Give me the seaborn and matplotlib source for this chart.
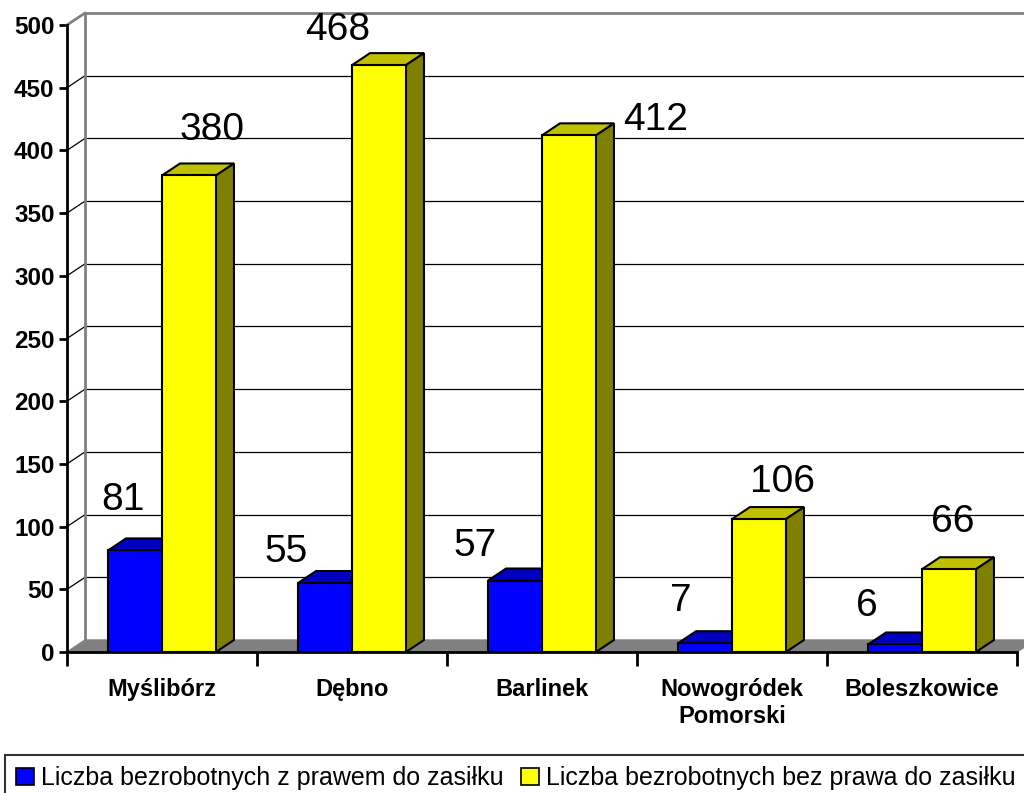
import matplotlib
matplotlib.use("Agg")
import matplotlib.pyplot as plt
import numpy as np
import pandas as pd
import seaborn as sns
from matplotlib.patches import Patch, Polygon

gminy = ["Myślibórz", "Dębno", "Barlinek", "Nowogródek\nPomorski", "Boleszkowice"]
z_prawem = [81, 55, 57, 7, 6]
bez_prawa = [380, 468, 412, 106, 66]
serie = ["Liczba bezrobotnych z prawem do zasiłku", "Liczba bezrobotnych bez prawa do zasiłku"]

# label shifts (px) from the front-top centre of each bar, as Excel placed them
offsets_z = [(-12, 50), (-39, 31), (-40, 35), (-24, 42), (-28, 38)]
offsets_bez = [(23, 45), (-41, 35), (87, 15), (24, 37), (4, 47)]

FRONT = {"blue": "#0000FF", "yellow": "#FFFF00"}
TOP = {"blue": "#0000C0", "yellow": "#C0C000"}
SIDE = {"blue": "#000080", "yellow": "#808000"}
DEPTH_PX = (18, 12)

sns.set_style("white")
plt.rcParams["font.family"] = ["Liberation Sans", "DejaVu Sans"]
plt.rcParams["text.color"] = "black"
plt.rcParams["xtick.color"] = "black"
plt.rcParams["ytick.color"] = "black"

df = pd.DataFrame({
    "gmina": gminy * 2,
    "wartosc": z_prawem + bez_prawa,
    "seria": [serie[0]] * len(gminy) + [serie[1]] * len(gminy),
})

fig = plt.figure(figsize=(10.24, 7.93), dpi=100)
ax = fig.add_axes([67 / 1024, 1 - 652 / 793, 950 / 1024, 627 / 793])

sns.barplot(data=df, x="gmina", y="wartosc", hue="seria",
            palette=[FRONT["blue"], FRONT["yellow"]], saturation=1,
            width=0.568, edgecolor="black", linewidth=1.5,
            legend=False, ax=ax, zorder=3)
ax.set_xlim(-0.5, len(gminy) - 0.5)
ax.set_ylim(0, 500)

# depth offset in data units
o = ax.transData.transform((0, 0))
dx, dy = ax.transData.inverted().transform(o + np.array(DEPTH_PX))
x0, x1 = ax.get_xlim()

# back wall with gridlines
for v in np.arange(50, 500, 50):
    ax.plot([x0 + dx, x1 + dx], [v + dy, v + dy], color="black", lw=0.9, zorder=0.5, clip_on=False)
    ax.plot([x0, x0 + dx], [v, v + dy], color="black", lw=0.9, zorder=0.5, clip_on=False)
ax.plot([x0 + dx, x0 + dx, x1 + dx], [dy, 500 + dy, 500 + dy], color="#808080", lw=2, zorder=0.6, clip_on=False)
ax.plot([x0, x0 + dx], [500, 500 + dy], color="#808080", lw=2, zorder=0.6, clip_on=False)

# floor
ax.add_patch(Polygon([[x0, 0], [x1, 0], [x1 + dx, dy], [x0 + dx, dy]],
                     closed=True, facecolor="#808080", edgecolor="#808080", lw=1,
                     zorder=1, clip_on=False))

# top and side faces for each bar
for p in ax.patches[:]:
    if p.get_zorder() != 3 or p.get_height() <= 0:
        continue
    r, g, b, _ = p.get_facecolor()
    kind = "blue" if b > 0.5 and r < 0.5 else "yellow"
    bx0, bx1, h = p.get_x(), p.get_x() + p.get_width(), p.get_height()
    top = Polygon([[bx0, h], [bx1, h], [bx1 + dx, h + dy], [bx0 + dx, h + dy]], closed=True,
                  facecolor=TOP[kind], edgecolor="black", lw=1.5, zorder=2, clip_on=False)
    side = Polygon([[bx1, 0], [bx1 + dx, dy], [bx1 + dx, h + dy], [bx1, h]], closed=True,
                   facecolor=SIDE[kind], edgecolor="black", lw=1.5, zorder=2, clip_on=False)
    ax.add_patch(top)
    ax.add_patch(side)

# value labels
bars = [p for p in ax.patches if p.get_zorder() == 3]
z_bars = sorted([p for p in bars if p.get_facecolor()[2] > 0.5 and p.get_facecolor()[0] < 0.5], key=lambda p: p.get_x())
y_bars = sorted([p for p in bars if p.get_facecolor()[0] > 0.5], key=lambda p: p.get_x())
for grp, vals, offs in [(z_bars, z_prawem, offsets_z), (y_bars, bez_prawa, offsets_bez)]:
    for p, v, off in zip(grp, vals, offs):
        ax.annotate(str(v), (p.get_x() + p.get_width() / 2, p.get_height()),
                    xytext=off, textcoords="offset pixels", ha="center", va="center",
                    fontsize=28, color="black", zorder=5)

# axes styling
for s in ["top", "right"]:
    ax.spines[s].set_visible(False)
for s in ["left", "bottom"]:
    ax.spines[s].set_color("black")
    ax.spines[s].set_linewidth(2)
    ax.spines[s].set_zorder(4)
ax.set_yticks(np.arange(0, 501, 50))
ax.tick_params(axis="y", direction="out", length=6, width=2, labelsize=17.5, pad=3, left=True)
for t in ax.get_yticklabels():
    t.set_fontweight("bold")
ax.set_xticks(range(len(gminy)))
ax.set_xticklabels(gminy, fontsize=17, fontweight="bold")
ax.set_xticks(np.arange(-0.5, len(gminy), 1), minor=True)
ax.tick_params(axis="x", which="major", length=0, pad=19)
ax.tick_params(axis="x", which="minor", direction="out", length=10, width=2, bottom=True)
ax.set_xlabel("")
ax.set_ylabel("")
ax.grid(False)

handles = [Patch(facecolor=FRONT["blue"], edgecolor="black", lw=1.2),
           Patch(facecolor=FRONT["yellow"], edgecolor="black", lw=1.2)]
leg = fig.legend(handles, serie, loc="upper left", bbox_to_anchor=(5 / 1024, 1 - 755 / 793),
                 ncol=2, frameon=True, fancybox=False, edgecolor="black", borderaxespad=0,
                 handlelength=0.7, handleheight=0.7, handletextpad=0.3, columnspacing=0.7,
                 borderpad=0.45, fontsize=18)
leg.get_frame().set_linewidth(1.5)

fig.savefig("out.png", dpi=100)
